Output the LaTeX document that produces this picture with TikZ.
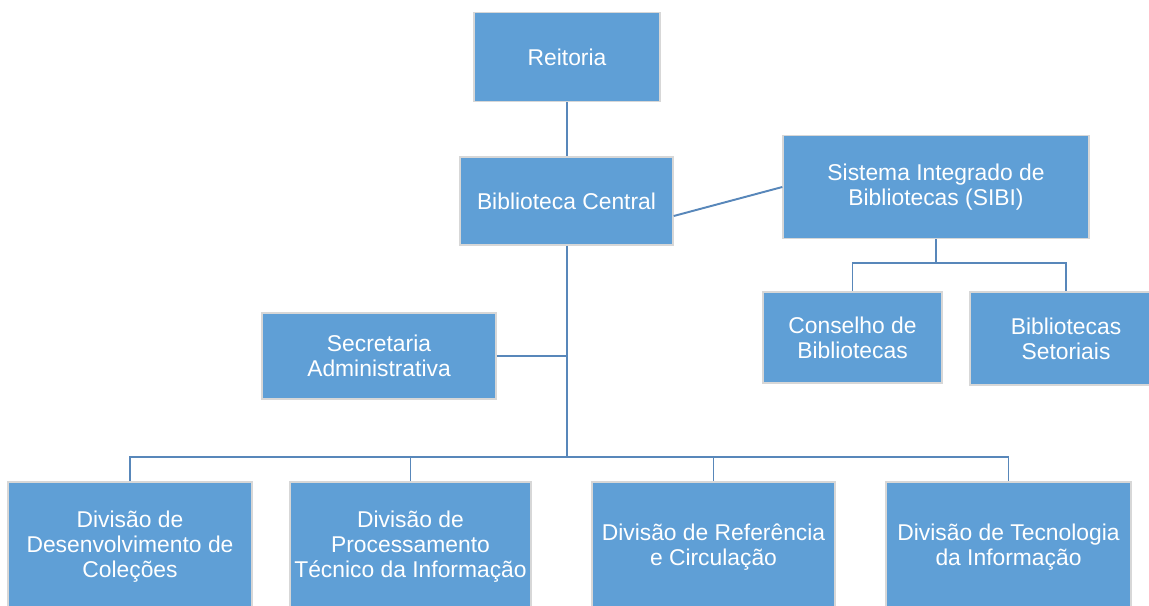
\documentclass[tikz,border=0pt]{standalone}
\usepackage{fontspec}
\setmainfont{Liberation Sans}
\usetikzlibrary{positioning, calc}
\definecolor{BoxBlue}{RGB}{95, 159, 214}
\definecolor{LineBlue}{RGB}{88, 135, 186}
\definecolor{EdgeGray}{RGB}{215, 215, 215}

\tikzset{
  orgbox/.style={draw=EdgeGray, line width=0.8pt, fill=BoxBlue, text=white, align=center,
    font=\fontsize{13pt}{14.2pt}\selectfont, inner sep=2pt},
  conn/.style={draw=LineBlue, line width=1.1pt}
}

\begin{document}
\begin{tikzpicture}[x=0.02cm, y=-0.02cm]
    \clip (0,0) rectangle (1149,605);
    \fill[white] (0,0) rectangle (1149,605);

    % top of the chart
    \node[orgbox, minimum width=3.72cm, minimum height=1.78cm] (reitoria) at (567,57) {Reitoria};
    \node[orgbox, minimum width=4.26cm, minimum height=1.76cm] (central) at (566.5,201) {Biblioteca Central};
    \node[orgbox, minimum width=6.12cm, minimum height=2.06cm] (sibi) at (936,187) {Sistema Integrado de\\Bibliotecas (SIBI)};

    % SIBI branch
    \node[orgbox, minimum width=3.58cm, minimum height=1.82cm] (conselho) at (852.5,337.5) {Conselho de\\Bibliotecas};
    \node[orgbox, minimum width=3.84cm, minimum height=1.86cm] (setoriais) at (1066,338.5) {Bibliotecas\\Setoriais};

    \node[orgbox, minimum width=4.68cm, minimum height=1.72cm] (secretaria) at (379,356) {Secretaria\\Administrativa};

    % divisions
    \node[orgbox, minimum width=4.88cm, minimum height=2.6cm] (colecoes) at (130,547) {Divisão de\\Desenvolvimento de\\Coleções};
    \node[orgbox, minimum width=4.82cm, minimum height=2.6cm] (processamento) at (410.5,547) {Divisão de\\Processamento\\Técnico da Informação};
    \node[orgbox, minimum width=4.86cm, minimum height=2.6cm] (referencia) at (713.5,547) {Divisão de Referência\\e Circulação};
    \node[orgbox, minimum width=4.9cm, minimum height=2.6cm] (tecnologia) at (1008.5,547) {Divisão de Tecnologia\\da Informação};

    \coordinate (bus) at (567,457);
    \coordinate (sibibus) at (936,263);

    % connectors
    \draw[conn] (reitoria.south) -- (reitoria.south |- central.north);
    \draw[conn] ($(central.east)+(0,15)$) -- (sibi.west);
    \draw[conn] (central.south -| bus) -- (bus);
    \draw[conn] (secretaria.east) -- (secretaria.east -| bus);
    \foreach \d in {colecoes, processamento, referencia, tecnologia}
        \draw[conn] (bus) -| (\d.north);
    \draw[conn] (sibi.south) -- (sibibus);
    \draw[conn] (sibibus) -| (conselho.north);
    \draw[conn] (sibibus) -| (setoriais.north);
\end{tikzpicture}
\end{document}
